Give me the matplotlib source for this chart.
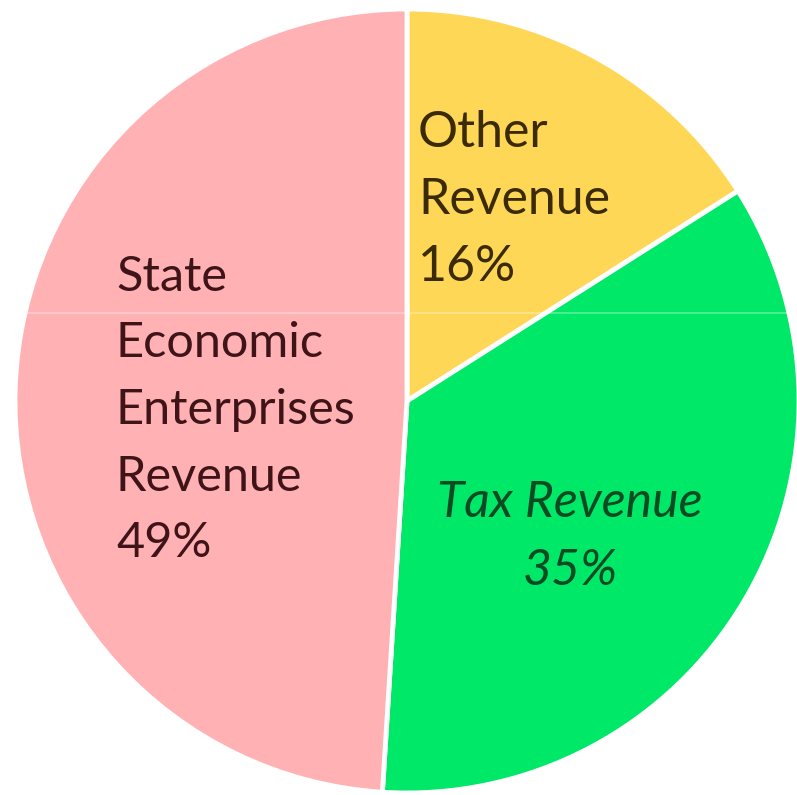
import matplotlib
matplotlib.use("Agg")
import matplotlib.pyplot as plt

# revenue shares, drawn clockwise from 12 o'clock
labels = ["Other\nRevenue", "Tax Revenue", "State\nEconomic\nEnterprises\nRevenue"]
shares = [16, 35, 49]
colors = ["#FFD757", "#00E868", "#FFB1B3"]
text_colors = ["#3A2A05", "#0B4A22", "#3F1418"]

W, H = 797, 795
cx, cy, r = 407, 401, 392   # pie centre and radius in pixels

fig = plt.figure(figsize=(W / 100, H / 100), dpi=100)
ax = fig.add_axes([0, 0, 1, 1])
ax.pie(shares, colors=colors, startangle=90, counterclock=False,
       radius=1.0, wedgeprops=dict(edgecolor="white", linewidth=3.5))
ax.set_xlim(-cx / r, (W - cx) / r)
ax.set_ylim(-(H - cy) / r, cy / r)
ax.set_aspect("equal")
ax.axis("off")


def pos(px, py):
    return (px - cx) / r, (cy - py) / r


font = ["Lato", "DejaVu Sans"]
fs = 36
ls = 1.58

x, y = pos(418, 200)
ax.text(x, y, "%s\n%d%%" % (labels[0], shares[0]), ha="left", va="center",
        fontsize=fs, family=font, color=text_colors[0], linespacing=ls)

x, y = pos(570, 537)
ax.text(x, y, "%s\n%d%%" % (labels[1], shares[1]), ha="center", va="center",
        fontsize=fs, family=font, style="italic", color=text_colors[1],
        linespacing=ls)

x, y = pos(116, 410)
ax.text(x, y, "%s\n%d%%" % (labels[2], shares[2]), ha="left", va="center",
        fontsize=fs - 1, family=font, color=text_colors[2], linespacing=ls + 0.05)

# faint light streak across the fill
ax.axhline(pos(0, 313)[1], color="white", lw=1.2, alpha=0.35)

fig.savefig("out.png", dpi=100, facecolor="white")
